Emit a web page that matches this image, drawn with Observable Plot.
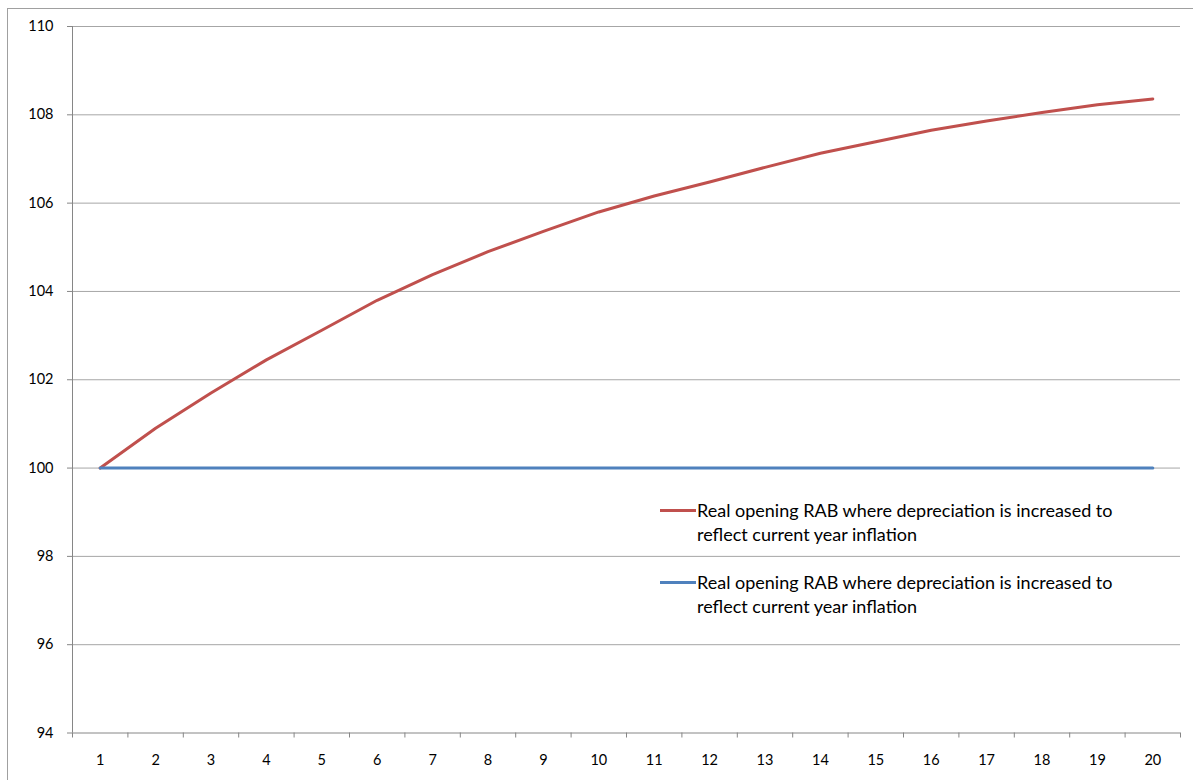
<!DOCTYPE html>
<html>
<head>
<meta charset="utf-8">
<script src="https://cdn.jsdelivr.net/npm/d3@7"></script>
<script src="https://cdn.jsdelivr.net/npm/@observablehq/plot@0.6"></script>
<style>
  html, body { margin: 0; padding: 0; background: #fff; }
  #wrap { position: relative; width: 1193px; height: 780px; overflow: hidden; font-family: Lato, "Open Sans", sans-serif; }
  #border { position: absolute; left: 7px; top: 8px; width: 1300px; height: 900px; border-left: 1px solid #a0a0a0; border-top: 1px solid #a0a0a0; }
  #chart { position: absolute; left: 0; top: 0; }
  .legend { position: absolute; left: 660px; font-size: 18px; color: #000; line-height: 24px; }
  .legend .sw { position: absolute; left: 0; top: 11px; width: 36px; height: 3px; }
  .legend .tx { margin-left: 37px; white-space: nowrap; }
</style>
</head>
<body>
<div id="wrap">
  <div id="border"></div>
  <div id="chart"></div>
</div>
<script>
const years = d3.range(1, 21);
const redSeries = [100, 100.9, 101.7, 102.45, 103.12, 103.8, 104.38, 104.9, 105.36, 105.8, 106.16, 106.48, 106.81, 107.13, 107.39, 107.65, 107.86, 108.05, 108.23, 108.36];
const blueSeries = [100, 100, 100, 100, 100, 100, 100, 100, 100, 100, 100, 100, 100, 100, 100, 100, 100, 100, 100, 100];
const yTicks = [94, 96, 98, 100, 102, 104, 106, 108, 110];
const seriesNames = [
  "Real opening RAB where depreciation is increased to\nreflect current year inflation",
  "Real opening RAB where depreciation is increased to\nreflect current year inflation"
];
const seriesColors = ["#C0504D", "#4F81BD"];

const redData = years.map((x, i) => ({x, y: redSeries[i]}));
const blueData = years.map((x, i) => ({x, y: blueSeries[i]}));
const boundaries = [years[0] - 0.5, ...years.map(d => d + 0.5)];
const axisGray = "#868686";

const plot = Plot.plot({
  width: 1193,
  height: 780,
  marginLeft: 72,
  marginRight: 13,
  marginTop: 26,
  marginBottom: 47.5,
  style: {fontFamily: "Lato, 'Open Sans', sans-serif", fontSize: "14px", color: "#000", background: "transparent", overflow: "visible"},
  x: {domain: [years[0] - 0.5, years[years.length - 1] + 0.5], axis: null},
  y: {domain: [yTicks[0], yTicks[yTicks.length - 1]], axis: null},
  marks: [
    Plot.ruleY(yTicks.slice(1), {stroke: "#a6a6a6", strokeWidth: 1}),
    Plot.ruleY([yTicks[0]], {stroke: axisGray, strokeWidth: 1}),
    Plot.ruleX([boundaries[0]], {stroke: axisGray, strokeWidth: 1}),
    Plot.axisY(yTicks, {tickSize: 5, tickPadding: 14, stroke: axisGray, fill: "#000", fontSize: 14.5, label: null}),
    Plot.axisX(years, {tickSize: 0, tickPadding: 22, fill: "#000", fontSize: 14.5, label: null}),
    Plot.axisX(boundaries, {tickSize: 5, tickFormat: () => "", stroke: axisGray, label: null}),
    Plot.line(redData, {x: "x", y: "y", stroke: seriesColors[0], strokeWidth: 3, strokeLinecap: "round"}),
    Plot.line(blueData, {x: "x", y: "y", stroke: seriesColors[1], strokeWidth: 3, strokeLinecap: "round"})
  ]
});
document.getElementById("chart").appendChild(plot);

const wrap = document.getElementById("wrap");
const legendTops = [498, 570];
seriesNames.forEach((name, i) => {
  const div = document.createElement("div");
  div.className = "legend";
  div.style.top = legendTops[i] + "px";
  const sw = document.createElement("div");
  sw.className = "sw";
  sw.style.background = seriesColors[i];
  div.appendChild(sw);
  name.split("\n").forEach(line => {
    const t = document.createElement("div");
    t.className = "tx";
    t.textContent = line;
    div.appendChild(t);
  });
  wrap.appendChild(div);
});
</script>
</body>
</html>
